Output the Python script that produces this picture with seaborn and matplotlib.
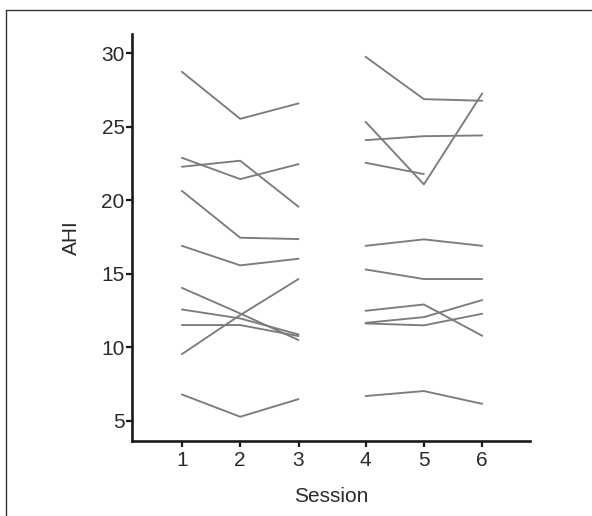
import matplotlib

matplotlib.use("Agg")
import matplotlib.pyplot as plt
import numpy as np
import pandas as pd
import seaborn as sns
from matplotlib.lines import Line2D

# Session labels; second block (4-6) is drawn slightly shifted right
sessions = [1, 2, 3, 4, 5, 6]
session_pos = [1, 2, 3, 4.15, 5.15, 6.15]

# AHI per subject, sessions 1-3
ahi_block1 = [
    [28.75, 25.55, 26.6],
    [22.9, 21.45, 22.47],
    [22.29, 22.7, 19.57],
    [20.65, 17.46, 17.37],
    [16.91, 15.58, 16.03],
    [14.05, 12.31, 10.5],
    [12.58, 11.97, 10.88],
    [11.52, 11.52, 10.77],
    [9.54, 12.2, 14.65],
    [6.8, 5.28, 6.48],
]

# AHI per subject, sessions 4-6
ahi_block2 = [
    [29.77, 26.89, 26.78],
    [25.35, 21.09, 27.28],
    [24.1, 24.37, 24.42],
    [22.56, 21.79, np.nan],
    [16.91, 17.35, 16.91],
    [15.3, 14.65, 14.65],
    [12.49, 12.92, 10.79],
    [11.67, 12.06, 13.22],
    [11.63, 11.5, 12.29],
    [6.69, 7.03, 6.16],
]

rows = []
for i, vals in enumerate(ahi_block1):
    for pos, v in zip(session_pos[:3], vals):
        rows.append({"unit": f"a{i}", "pos": pos, "AHI": v})
for i, vals in enumerate(ahi_block2):
    for pos, v in zip(session_pos[3:], vals):
        rows.append({"unit": f"b{i}", "pos": pos, "AHI": v})
df = pd.DataFrame(rows).dropna()

sns.set_style("ticks")
plt.rcParams["font.family"] = ["Liberation Sans", "DejaVu Sans"]

fig = plt.figure(figsize=(5.92, 5.16), dpi=100)
ax = fig.add_axes([0.2235, 0.1453, 0.6718, 0.7882])

sns.lineplot(
    data=df,
    x="pos",
    y="AHI",
    units="unit",
    estimator=None,
    color="#7c7c7c",
    linewidth=1.35,
    ax=ax,
)

ax.set_xlim(0.15, 6.97)
ax.set_ylim(3.63, 31.3)
ax.set_xticks(session_pos)
ax.set_xticklabels([str(s) for s in sessions])
ax.set_yticks([5, 10, 15, 20, 25, 30])
ax.tick_params(
    axis="both", direction="out", length=4.5, width=1.6,
    labelsize=15, colors="#1a1a1a",
)
ax.tick_params(axis="x", pad=3)
ax.tick_params(axis="y", pad=1)
for label in ax.get_xticklabels() + ax.get_yticklabels():
    label.set_color("#2a2a2a")
for side in ["left", "bottom"]:
    ax.spines[side].set_linewidth(1.9)
    ax.spines[side].set_color("#1a1a1a")
sns.despine(ax=ax)

ax.set_xlabel("Session", fontsize=15, color="#2a2a2a", labelpad=12)
ax.set_ylabel("AHI", fontsize=15, color="#2a2a2a", labelpad=15)

# partial outer frame (top and left)
fig.add_artist(Line2D([5.5 / 592, 1], [1 - 9.5 / 516] * 2,
                      transform=fig.transFigure, color="#333333", linewidth=1))
fig.add_artist(Line2D([5.5 / 592] * 2, [0, 1 - 9.5 / 516],
                      transform=fig.transFigure, color="#333333", linewidth=1))

fig.savefig("out.png", dpi=100)
